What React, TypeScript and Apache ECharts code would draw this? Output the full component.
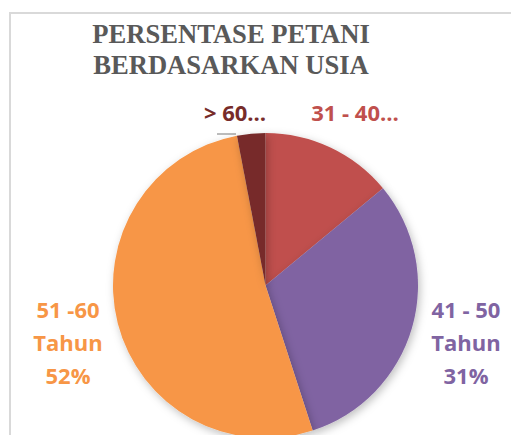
import React, { useEffect, useRef } from "react";
import * as echarts from "echarts";

const titleLines = ["PERSENTASE PETANI", "BERDASARKAN USIA"];
const categories = ["31 - 40 Tahun", "41 - 50 Tahun", "51 -60 Tahun", "> 60 Tahun"];
const values = [14, 31, 52, 3];
const labelTexts = ["31 - 40…", "41 - 50\nTahun\n31%", "51 -60\nTahun\n52%", "> 60…"];
const colors = ["#c0504d", "#8064a2", "#f79646", "#772c2a"];

const labelPos = [
  { x: 355, y: 112, align: "center", verticalAlign: "middle" },
  { x: 466, y: 342, align: "center", verticalAlign: "middle" },
  { x: 68, y: 342, align: "center", verticalAlign: "middle" },
  { x: 235, y: 112, align: "center", verticalAlign: "middle" },
];

export default function App() {
  const ref = useRef<HTMLDivElement>(null);
  useEffect(() => {
    if (!ref.current) return;
    const chart = echarts.init(ref.current, undefined, { renderer: "svg" });
    chart.setOption({
      animation: false,
      backgroundColor: "#ffffff",
      title: {
        text: titleLines.join("\n"),
        left: 226,
        top: 13,
        textAlign: "center",
        textStyle: {
          fontFamily: "Liberation Serif",
          fontWeight: "bold",
          fontSize: 26.6,
          lineHeight: 31,
          color: "#595959",
        },
      },
      graphic: [
        {
          type: "rect",
          shape: { x: 10, y: 13, width: 560, height: 500 },
          style: { fill: "none", stroke: "#d9d9d9", lineWidth: 2 },
          silent: true,
          z: 0,
        },
        {
          type: "line",
          shape: { x1: 217, y1: 134, x2: 236, y2: 134 },
          style: { stroke: "#a6a6a6", lineWidth: 1.5 },
          silent: true,
          z: 1,
        },
      ],
      series: [
        {
          type: "pie",
          center: [265.5, 285.5],
          radius: [0, 152.5],
          startAngle: 90,
          clockwise: true,
          avoidLabelOverlap: false,
          data: categories.map((name, i) => ({
            name,
            value: values[i],
            itemStyle: { color: colors[i] },
            label: {
              formatter: labelTexts[i],
              color: colors[i],
            },
          })),
          itemStyle: {
            borderWidth: 0,
            shadowBlur: 8,
            shadowColor: "rgba(0,0,0,0.25)",
            shadowOffsetX: 2,
            shadowOffsetY: 3,
          },
          label: {
            show: true,
            fontFamily: "Open Sans",
            fontWeight: "bold",
            fontSize: 22,
            lineHeight: 33,
            align: "center",
          },
          labelLine: { show: false },
          labelLayout: (params: any) => labelPos[params.dataIndex],
        },
      ],
    });
    return () => chart.dispose();
  }, []);
  return (
    <div
      ref={ref}
      style={{ position: "absolute", left: 0, top: 0, width: 511, height: 435 }}
    />
  );
}
